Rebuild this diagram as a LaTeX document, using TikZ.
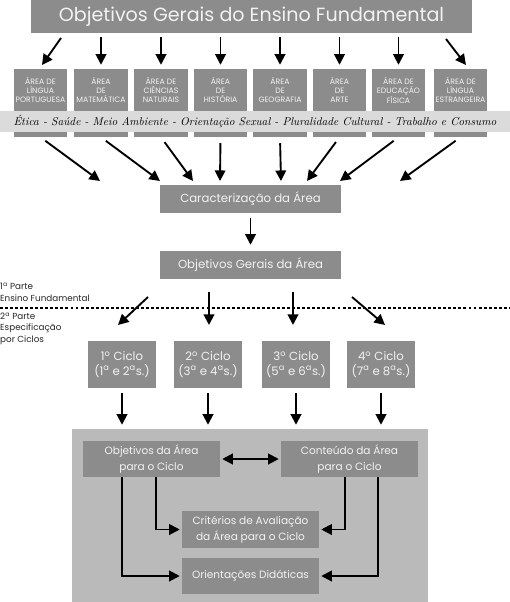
\documentclass[tikz,border=0pt]{standalone}
\usepackage{fontspec}
\setsansfont{Poppins}
\renewcommand{\familydefault}{\sfdefault}
\usetikzlibrary{arrows.meta}
\usetikzlibrary{positioning}
\definecolor{boxgray}{gray}{0.55}
\definecolor{bandgray}{gray}{0.86}
\definecolor{panelgray}{gray}{0.73}
\definecolor{boxtext}{gray}{0.95}
\tikzset{
  graybox/.style={rectangle,fill=boxgray,text=boxtext,inner sep=0pt,align=center},
  arr/.style={-{Triangle[length=9pt,width=9pt]},line width=1.6pt,black},
  darr/.style={{Triangle[length=9pt,width=9pt]}-{Triangle[length=9pt,width=9pt]},line width=1.6pt,black},
}

\begin{document}
\begin{tikzpicture}[x=0.03cm,y=-0.03cm]
\useasboundingbox (0,0) rectangle (510,602);
\node[graybox,minimum width=13.2cm,minimum height=0.99cm,font=\fontsize{16.3}{20}\selectfont] (top) at (251.5,16.5) {Objetivos Gerais do Ensino Fundamental};

\foreach \i/\x/\t in {1/40.5/{ÁREA DE\\LÍNGUA\\PORTUGUESA},2/101/{ÁREA\\DE\\MATEMÁTICA},3/161/{ÁREA DE\\CIÊNCIAS\\NATURAIS},4/220.5/{ÁREA\\DE\\HISTÓRIA},5/280/{ÁREA\\DE\\GEOGRAFIA},6/339.5/{ÁREA\\DE\\ARTE},7/398.5/{ÁREA DE\\EDUCAÇÃO\\FÍSICA},8/460.5/{ÁREA DE\\LÍNGUA\\ESTRANGEIRA}}{
  \node[graybox,minimum width=1.6cm,minimum height=2.04cm] (a\i) at (\x,103) {};
  \node[text=boxtext,align=center,inner sep=0pt,font=\fontsize{6.6}{7.8}\selectfont] (at\i) at ([yshift=-0.645cm]a\i.north) {\t};
}
\node[fill=bandgray,minimum width=15.3cm,minimum height=0.63cm,inner sep=0pt] (band) at (255,121.5) {};
\node[inner sep=0pt,font=\rmfamily\itshape\fontsize{9.7}{11}\selectfont] (bandtext) at (band.center) {Ética - Saúde - Meio Ambiente - Orientação Sexual - Pluralidade Cultural - Trabalho e Consumo};

\coordinate (t1) at (61,38);
\coordinate (u1) at (42,65);
\coordinate (t8) at (446,39);
\coordinate (u8) at (466,65);
\draw[arr] (t1) -- (u1);
\draw[arr] (t8) -- (u8);
\foreach \i in {2,...,7}
  \draw[arr,shorten <=0.12cm,shorten >=0.12cm] (a\i.north |- top.south) -- (a\i.north);

\node[graybox,minimum width=5.43cm,minimum height=0.84cm,font=\fontsize{10}{12}\selectfont] (car) at (250.5,199) {Caracterização da Área};
\node[graybox,minimum width=5.43cm,minimum height=0.84cm,font=\fontsize{10}{12}\selectfont] (og) at (250.5,265) {Objetivos Gerais da Área};

\foreach \i/\ex in {1/100,2/160,3/193,4/220,5/281,6/307,7/340,8/400}{
  \coordinate (e\i) at (\ex,181);
  \draw[arr,shorten <=0.18cm] (a\i.south) -- (e\i);
}
\draw[arr,shorten <=0.15cm,shorten >=0.18cm] (car) -- (og);

\node[anchor=west,align=left,inner sep=0pt,text=black!85,font=\fontsize{7.5}{9.6}\selectfont] (parte1) at (0,292) {1\textsuperscript{a} Parte\\Ensino Fundamental};
\node[anchor=west,align=left,inner sep=0pt,text=black!85,font=\fontsize{7.5}{9.6}\selectfont] (parte2) at (0,328.5) {2\textsuperscript{a} Parte\\Especificação\\por Ciclos};
\draw[line width=1.3pt,dash pattern=on 2.5pt off 1.8pt] (0,308) -- (510,308);

\foreach \i/\x/\a/\b in {1/122/1/2,2/208/3/4,3/296/5/6,4/381/7/8}
  \node[graybox,minimum width=2.04cm,minimum height=1.41cm,font=\fontsize{10}{12.5}\selectfont] (c\i) at (\x,364.5) {\i\textsuperscript{o} Ciclo\\(\a\textsuperscript{a} e \b\textsuperscript{a}s.)};

\foreach \i/\sx/\sy/\ex in {1/148/297/118,2/209/292/209,3/293/292/293,4/352/297/385}{
  \coordinate (g\i) at (\sx,\sy);
  \coordinate (h\i) at (\ex,325);
  \draw[arr] (g\i) -- (h\i);
}

\node[fill=panelgray,minimum width=10.68cm,minimum height=5.19cm,inner sep=0pt] (panel) at (250,515.5) {};
\foreach \i in {1,...,4}
  \draw[arr,shorten <=0.15cm,shorten >=0.12cm] (c\i.south) -- (c\i.south |- panel.north);

\node[graybox,minimum width=4.11cm,minimum height=1.08cm,font=\fontsize{9}{13.6}\selectfont] (oa) at (151.5,459) {Objetivos da Área\\para o Ciclo};
\node[graybox,minimum width=4.11cm,minimum height=1.08cm,font=\fontsize{9}{13.6}\selectfont] (ca) at (349.5,459) {Conteúdo da Área\\para o Ciclo};
\node[graybox,minimum width=4.11cm,minimum height=1.11cm,font=\fontsize{9}{13.6}\selectfont] (cr) at (250.5,529.5) {Critérios de Avaliação\\da Área para o Ciclo};
\node[graybox,minimum width=4.11cm,minimum height=1.08cm,font=\fontsize{9}{13.6}\selectfont] (od) at (250.5,576) {Orientações Didáticas};

\draw[darr,shorten <=0.06cm,shorten >=0.06cm] (oa) -- (ca);
\draw[arr,shorten >=0.06cm] ([xshift=-0.885cm]oa.south) |- (od.west);
\draw[arr,shorten >=0.06cm] ([xshift=0.135cm]oa.south) |- (cr.west);
\draw[arr,shorten >=0.06cm] ([xshift=-0.135cm]ca.south) |- (cr.east);
\draw[arr,shorten >=0.06cm] ([xshift=0.855cm]ca.south) |- (od.east);

\end{tikzpicture}
\end{document}
